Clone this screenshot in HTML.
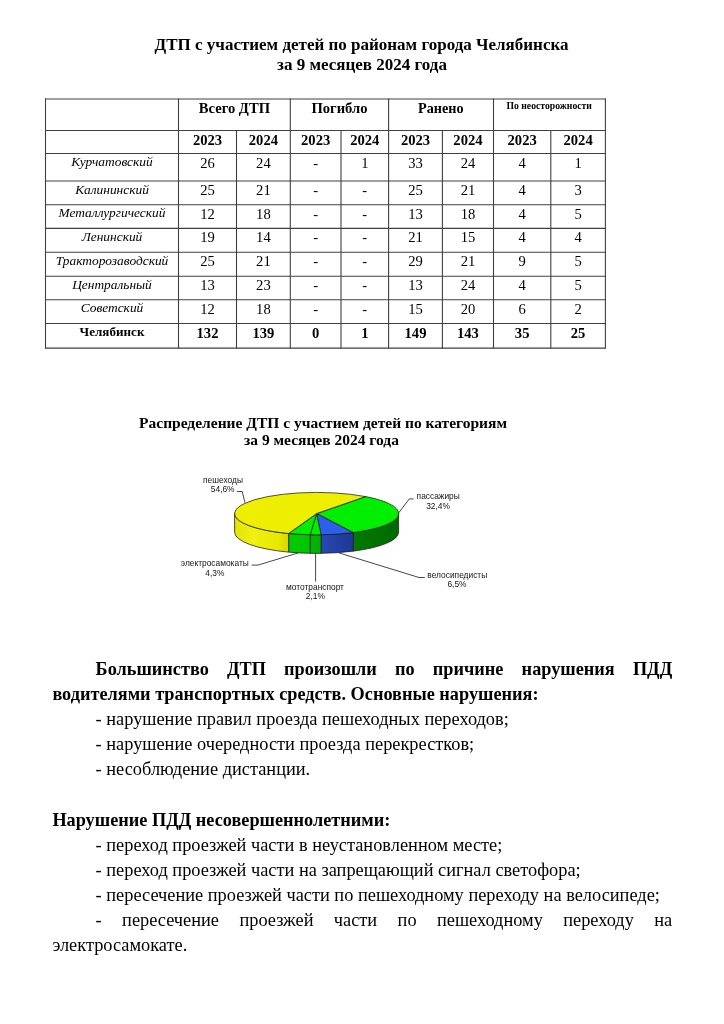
<!DOCTYPE html>
<html lang="ru"><head><meta charset="utf-8"><title>ДТП с участием детей</title>
<style>
html,body{margin:0;padding:0;background:#fff;}
body{width:724px;height:1024px;position:relative;overflow:hidden;color:#000;}
.t{position:absolute;margin:0;padding:0;}
.abs{position:absolute;}
#w{position:absolute;left:0;top:0;width:724px;height:1024px;will-change:transform;}
</style></head><body><div id="w">
<div class="t" style="left:61.50px;top:34.01px;font:normal bold 17px/21px 'Liberation Serif', 'Times New Roman', serif;text-align:center;width:600.00px;">ДТП с участием детей по районам города Челябинска</div>
<div class="t" style="left:62.00px;top:54.01px;font:normal bold 17px/21px 'Liberation Serif', 'Times New Roman', serif;text-align:center;width:600.00px;">за 9 месяцев 2024 года</div>
<svg class="abs" width="724" height="400" style="left:0;top:0" stroke="#404040" stroke-width="1.1"><line x1="45.0" y1="99" x2="605.9" y2="99"/><line x1="45.0" y1="130.5" x2="605.9" y2="130.5"/><line x1="45.0" y1="153.5" x2="605.9" y2="153.5"/><line x1="45.0" y1="181" x2="605.9" y2="181"/><line x1="45.0" y1="204.7" x2="605.9" y2="204.7"/><line x1="45.0" y1="228.4" x2="605.9" y2="228.4"/><line x1="45.0" y1="252.3" x2="605.9" y2="252.3"/><line x1="45.0" y1="276.2" x2="605.9" y2="276.2"/><line x1="45.0" y1="299.8" x2="605.9" y2="299.8"/><line x1="45.0" y1="323.5" x2="605.9" y2="323.5"/><line x1="45.0" y1="348.1" x2="605.9" y2="348.1"/><line x1="45.5" y1="98.5" x2="45.5" y2="348.6"/><line x1="178.5" y1="98.5" x2="178.5" y2="348.6"/><line x1="236.5" y1="130.0" x2="236.5" y2="348.6"/><line x1="290.3" y1="98.5" x2="290.3" y2="348.6"/><line x1="341" y1="130.0" x2="341" y2="348.6"/><line x1="388.6" y1="98.5" x2="388.6" y2="348.6"/><line x1="442.4" y1="130.0" x2="442.4" y2="348.6"/><line x1="493.5" y1="98.5" x2="493.5" y2="348.6"/><line x1="550.8" y1="130.0" x2="550.8" y2="348.6"/><line x1="605.4" y1="98.5" x2="605.4" y2="348.6"/></svg>
<div class="t" style="left:174.40px;top:99.01px;font:normal bold 14.6px/18px 'Liberation Serif', 'Times New Roman', serif;text-align:center;width:120.00px;">Всего ДТП</div>
<div class="t" style="left:279.45px;top:99.01px;font:normal bold 14.6px/18px 'Liberation Serif', 'Times New Roman', serif;text-align:center;width:120.00px;">Погибло</div>
<div class="t" style="left:380.80px;top:99.00px;font:normal bold 14.2px/18px 'Liberation Serif', 'Times New Roman', serif;text-align:center;width:120.00px;">Ранено</div>
<div class="t" style="left:489.20px;top:100.01px;font:normal bold 9.7px/12px 'Liberation Serif', 'Times New Roman', serif;text-align:center;width:120.00px;">По неосторожности</div>
<div class="t" style="left:177.50px;top:131.01px;font:normal bold 14.6px/18px 'Liberation Serif', 'Times New Roman', serif;text-align:center;width:60.00px;">2023</div>
<div class="t" style="left:233.40px;top:131.01px;font:normal bold 14.6px/18px 'Liberation Serif', 'Times New Roman', serif;text-align:center;width:60.00px;">2024</div>
<div class="t" style="left:285.65px;top:131.01px;font:normal bold 14.6px/18px 'Liberation Serif', 'Times New Roman', serif;text-align:center;width:60.00px;">2023</div>
<div class="t" style="left:334.80px;top:131.01px;font:normal bold 14.6px/18px 'Liberation Serif', 'Times New Roman', serif;text-align:center;width:60.00px;">2024</div>
<div class="t" style="left:385.50px;top:131.01px;font:normal bold 14.6px/18px 'Liberation Serif', 'Times New Roman', serif;text-align:center;width:60.00px;">2023</div>
<div class="t" style="left:437.95px;top:131.01px;font:normal bold 14.6px/18px 'Liberation Serif', 'Times New Roman', serif;text-align:center;width:60.00px;">2024</div>
<div class="t" style="left:492.15px;top:131.01px;font:normal bold 14.6px/18px 'Liberation Serif', 'Times New Roman', serif;text-align:center;width:60.00px;">2023</div>
<div class="t" style="left:548.10px;top:131.01px;font:normal bold 14.6px/18px 'Liberation Serif', 'Times New Roman', serif;text-align:center;width:60.00px;">2024</div>
<div class="t" style="left:47.00px;top:153.01px;font:italic normal 13.4px/17px 'Liberation Serif', 'Times New Roman', serif;text-align:center;width:130.00px;">Курчатовский</div>
<div class="t" style="left:177.50px;top:154.01px;font:normal normal 14.6px/18px 'Liberation Serif', 'Times New Roman', serif;text-align:center;width:60.00px;">26</div>
<div class="t" style="left:233.40px;top:154.01px;font:normal normal 14.6px/18px 'Liberation Serif', 'Times New Roman', serif;text-align:center;width:60.00px;">24</div>
<div class="t" style="left:285.65px;top:154.01px;font:normal normal 14.6px/18px 'Liberation Serif', 'Times New Roman', serif;text-align:center;width:60.00px;">-</div>
<div class="t" style="left:334.80px;top:154.01px;font:normal normal 14.6px/18px 'Liberation Serif', 'Times New Roman', serif;text-align:center;width:60.00px;">1</div>
<div class="t" style="left:385.50px;top:154.01px;font:normal normal 14.6px/18px 'Liberation Serif', 'Times New Roman', serif;text-align:center;width:60.00px;">33</div>
<div class="t" style="left:437.95px;top:154.01px;font:normal normal 14.6px/18px 'Liberation Serif', 'Times New Roman', serif;text-align:center;width:60.00px;">24</div>
<div class="t" style="left:492.15px;top:154.01px;font:normal normal 14.6px/18px 'Liberation Serif', 'Times New Roman', serif;text-align:center;width:60.00px;">4</div>
<div class="t" style="left:548.10px;top:154.01px;font:normal normal 14.6px/18px 'Liberation Serif', 'Times New Roman', serif;text-align:center;width:60.00px;">1</div>
<div class="t" style="left:47.00px;top:181.01px;font:italic normal 13.4px/17px 'Liberation Serif', 'Times New Roman', serif;text-align:center;width:130.00px;">Калининский</div>
<div class="t" style="left:177.50px;top:181.01px;font:normal normal 14.6px/18px 'Liberation Serif', 'Times New Roman', serif;text-align:center;width:60.00px;">25</div>
<div class="t" style="left:233.40px;top:181.01px;font:normal normal 14.6px/18px 'Liberation Serif', 'Times New Roman', serif;text-align:center;width:60.00px;">21</div>
<div class="t" style="left:285.65px;top:181.01px;font:normal normal 14.6px/18px 'Liberation Serif', 'Times New Roman', serif;text-align:center;width:60.00px;">-</div>
<div class="t" style="left:334.80px;top:181.01px;font:normal normal 14.6px/18px 'Liberation Serif', 'Times New Roman', serif;text-align:center;width:60.00px;">-</div>
<div class="t" style="left:385.50px;top:181.01px;font:normal normal 14.6px/18px 'Liberation Serif', 'Times New Roman', serif;text-align:center;width:60.00px;">25</div>
<div class="t" style="left:437.95px;top:181.01px;font:normal normal 14.6px/18px 'Liberation Serif', 'Times New Roman', serif;text-align:center;width:60.00px;">21</div>
<div class="t" style="left:492.15px;top:181.01px;font:normal normal 14.6px/18px 'Liberation Serif', 'Times New Roman', serif;text-align:center;width:60.00px;">4</div>
<div class="t" style="left:548.10px;top:181.01px;font:normal normal 14.6px/18px 'Liberation Serif', 'Times New Roman', serif;text-align:center;width:60.00px;">3</div>
<div class="t" style="left:47.00px;top:204.01px;font:italic normal 13.4px/17px 'Liberation Serif', 'Times New Roman', serif;text-align:center;width:130.00px;">Металлургический</div>
<div class="t" style="left:177.50px;top:205.01px;font:normal normal 14.6px/18px 'Liberation Serif', 'Times New Roman', serif;text-align:center;width:60.00px;">12</div>
<div class="t" style="left:233.40px;top:205.01px;font:normal normal 14.6px/18px 'Liberation Serif', 'Times New Roman', serif;text-align:center;width:60.00px;">18</div>
<div class="t" style="left:285.65px;top:205.01px;font:normal normal 14.6px/18px 'Liberation Serif', 'Times New Roman', serif;text-align:center;width:60.00px;">-</div>
<div class="t" style="left:334.80px;top:205.01px;font:normal normal 14.6px/18px 'Liberation Serif', 'Times New Roman', serif;text-align:center;width:60.00px;">-</div>
<div class="t" style="left:385.50px;top:205.01px;font:normal normal 14.6px/18px 'Liberation Serif', 'Times New Roman', serif;text-align:center;width:60.00px;">13</div>
<div class="t" style="left:437.95px;top:205.01px;font:normal normal 14.6px/18px 'Liberation Serif', 'Times New Roman', serif;text-align:center;width:60.00px;">18</div>
<div class="t" style="left:492.15px;top:205.01px;font:normal normal 14.6px/18px 'Liberation Serif', 'Times New Roman', serif;text-align:center;width:60.00px;">4</div>
<div class="t" style="left:548.10px;top:205.01px;font:normal normal 14.6px/18px 'Liberation Serif', 'Times New Roman', serif;text-align:center;width:60.00px;">5</div>
<div class="t" style="left:47.00px;top:228.01px;font:italic normal 13.4px/17px 'Liberation Serif', 'Times New Roman', serif;text-align:center;width:130.00px;">Ленинский</div>
<div class="t" style="left:177.50px;top:228.01px;font:normal normal 14.6px/18px 'Liberation Serif', 'Times New Roman', serif;text-align:center;width:60.00px;">19</div>
<div class="t" style="left:233.40px;top:228.01px;font:normal normal 14.6px/18px 'Liberation Serif', 'Times New Roman', serif;text-align:center;width:60.00px;">14</div>
<div class="t" style="left:285.65px;top:228.01px;font:normal normal 14.6px/18px 'Liberation Serif', 'Times New Roman', serif;text-align:center;width:60.00px;">-</div>
<div class="t" style="left:334.80px;top:228.01px;font:normal normal 14.6px/18px 'Liberation Serif', 'Times New Roman', serif;text-align:center;width:60.00px;">-</div>
<div class="t" style="left:385.50px;top:228.01px;font:normal normal 14.6px/18px 'Liberation Serif', 'Times New Roman', serif;text-align:center;width:60.00px;">21</div>
<div class="t" style="left:437.95px;top:228.01px;font:normal normal 14.6px/18px 'Liberation Serif', 'Times New Roman', serif;text-align:center;width:60.00px;">15</div>
<div class="t" style="left:492.15px;top:228.01px;font:normal normal 14.6px/18px 'Liberation Serif', 'Times New Roman', serif;text-align:center;width:60.00px;">4</div>
<div class="t" style="left:548.10px;top:228.01px;font:normal normal 14.6px/18px 'Liberation Serif', 'Times New Roman', serif;text-align:center;width:60.00px;">4</div>
<div class="t" style="left:47.00px;top:252.01px;font:italic normal 13.4px/17px 'Liberation Serif', 'Times New Roman', serif;text-align:center;width:130.00px;">Тракторозаводский</div>
<div class="t" style="left:177.50px;top:252.01px;font:normal normal 14.6px/18px 'Liberation Serif', 'Times New Roman', serif;text-align:center;width:60.00px;">25</div>
<div class="t" style="left:233.40px;top:252.01px;font:normal normal 14.6px/18px 'Liberation Serif', 'Times New Roman', serif;text-align:center;width:60.00px;">21</div>
<div class="t" style="left:285.65px;top:252.01px;font:normal normal 14.6px/18px 'Liberation Serif', 'Times New Roman', serif;text-align:center;width:60.00px;">-</div>
<div class="t" style="left:334.80px;top:252.01px;font:normal normal 14.6px/18px 'Liberation Serif', 'Times New Roman', serif;text-align:center;width:60.00px;">-</div>
<div class="t" style="left:385.50px;top:252.01px;font:normal normal 14.6px/18px 'Liberation Serif', 'Times New Roman', serif;text-align:center;width:60.00px;">29</div>
<div class="t" style="left:437.95px;top:252.01px;font:normal normal 14.6px/18px 'Liberation Serif', 'Times New Roman', serif;text-align:center;width:60.00px;">21</div>
<div class="t" style="left:492.15px;top:252.01px;font:normal normal 14.6px/18px 'Liberation Serif', 'Times New Roman', serif;text-align:center;width:60.00px;">9</div>
<div class="t" style="left:548.10px;top:252.01px;font:normal normal 14.6px/18px 'Liberation Serif', 'Times New Roman', serif;text-align:center;width:60.00px;">5</div>
<div class="t" style="left:47.00px;top:276.01px;font:italic normal 13.4px/17px 'Liberation Serif', 'Times New Roman', serif;text-align:center;width:130.00px;">Центральный</div>
<div class="t" style="left:177.50px;top:276.01px;font:normal normal 14.6px/18px 'Liberation Serif', 'Times New Roman', serif;text-align:center;width:60.00px;">13</div>
<div class="t" style="left:233.40px;top:276.01px;font:normal normal 14.6px/18px 'Liberation Serif', 'Times New Roman', serif;text-align:center;width:60.00px;">23</div>
<div class="t" style="left:285.65px;top:276.01px;font:normal normal 14.6px/18px 'Liberation Serif', 'Times New Roman', serif;text-align:center;width:60.00px;">-</div>
<div class="t" style="left:334.80px;top:276.01px;font:normal normal 14.6px/18px 'Liberation Serif', 'Times New Roman', serif;text-align:center;width:60.00px;">-</div>
<div class="t" style="left:385.50px;top:276.01px;font:normal normal 14.6px/18px 'Liberation Serif', 'Times New Roman', serif;text-align:center;width:60.00px;">13</div>
<div class="t" style="left:437.95px;top:276.01px;font:normal normal 14.6px/18px 'Liberation Serif', 'Times New Roman', serif;text-align:center;width:60.00px;">24</div>
<div class="t" style="left:492.15px;top:276.01px;font:normal normal 14.6px/18px 'Liberation Serif', 'Times New Roman', serif;text-align:center;width:60.00px;">4</div>
<div class="t" style="left:548.10px;top:276.01px;font:normal normal 14.6px/18px 'Liberation Serif', 'Times New Roman', serif;text-align:center;width:60.00px;">5</div>
<div class="t" style="left:47.00px;top:299.01px;font:italic normal 13.4px/17px 'Liberation Serif', 'Times New Roman', serif;text-align:center;width:130.00px;">Советский</div>
<div class="t" style="left:177.50px;top:300.01px;font:normal normal 14.6px/18px 'Liberation Serif', 'Times New Roman', serif;text-align:center;width:60.00px;">12</div>
<div class="t" style="left:233.40px;top:300.01px;font:normal normal 14.6px/18px 'Liberation Serif', 'Times New Roman', serif;text-align:center;width:60.00px;">18</div>
<div class="t" style="left:285.65px;top:300.01px;font:normal normal 14.6px/18px 'Liberation Serif', 'Times New Roman', serif;text-align:center;width:60.00px;">-</div>
<div class="t" style="left:334.80px;top:300.01px;font:normal normal 14.6px/18px 'Liberation Serif', 'Times New Roman', serif;text-align:center;width:60.00px;">-</div>
<div class="t" style="left:385.50px;top:300.01px;font:normal normal 14.6px/18px 'Liberation Serif', 'Times New Roman', serif;text-align:center;width:60.00px;">15</div>
<div class="t" style="left:437.95px;top:300.01px;font:normal normal 14.6px/18px 'Liberation Serif', 'Times New Roman', serif;text-align:center;width:60.00px;">20</div>
<div class="t" style="left:492.15px;top:300.01px;font:normal normal 14.6px/18px 'Liberation Serif', 'Times New Roman', serif;text-align:center;width:60.00px;">6</div>
<div class="t" style="left:548.10px;top:300.01px;font:normal normal 14.6px/18px 'Liberation Serif', 'Times New Roman', serif;text-align:center;width:60.00px;">2</div>
<div class="t" style="left:47.00px;top:324.00px;font:normal bold 13.1px/16px 'Liberation Serif', 'Times New Roman', serif;text-align:center;width:130.00px;">Челябинск</div>
<div class="t" style="left:177.50px;top:324.01px;font:normal bold 14.6px/18px 'Liberation Serif', 'Times New Roman', serif;text-align:center;width:60.00px;">132</div>
<div class="t" style="left:233.40px;top:324.01px;font:normal bold 14.6px/18px 'Liberation Serif', 'Times New Roman', serif;text-align:center;width:60.00px;">139</div>
<div class="t" style="left:285.65px;top:324.01px;font:normal bold 14.6px/18px 'Liberation Serif', 'Times New Roman', serif;text-align:center;width:60.00px;">0</div>
<div class="t" style="left:334.80px;top:324.01px;font:normal bold 14.6px/18px 'Liberation Serif', 'Times New Roman', serif;text-align:center;width:60.00px;">1</div>
<div class="t" style="left:385.50px;top:324.01px;font:normal bold 14.6px/18px 'Liberation Serif', 'Times New Roman', serif;text-align:center;width:60.00px;">149</div>
<div class="t" style="left:437.95px;top:324.01px;font:normal bold 14.6px/18px 'Liberation Serif', 'Times New Roman', serif;text-align:center;width:60.00px;">143</div>
<div class="t" style="left:492.15px;top:324.01px;font:normal bold 14.6px/18px 'Liberation Serif', 'Times New Roman', serif;text-align:center;width:60.00px;">35</div>
<div class="t" style="left:548.10px;top:324.01px;font:normal bold 14.6px/18px 'Liberation Serif', 'Times New Roman', serif;text-align:center;width:60.00px;">25</div>
<div class="t" style="left:73.00px;top:413.00px;font:normal bold 15.5px/19px 'Liberation Serif', 'Times New Roman', serif;text-align:center;width:500.00px;">Распределение ДТП с участием детей по категориям</div>
<div class="t" style="left:71.50px;top:430.00px;font:normal bold 15.5px/19px 'Liberation Serif', 'Times New Roman', serif;text-align:center;width:500.00px;">за 9 месяцев 2024 года</div>
<svg class="abs" width="724" height="700" style="left:0;top:0"><defs><linearGradient id="g0" x1="0" x2="1" y1="0" y2="0"><stop offset="0" stop-color="#007a00"/><stop offset="1" stop-color="#006a00"/></linearGradient><linearGradient id="g1" x1="0" x2="1" y1="0" y2="0"><stop offset="0" stop-color="#2848b4"/><stop offset="1" stop-color="#1f3794"/></linearGradient><linearGradient id="g2" x1="0" x2="1" y1="0" y2="0"><stop offset="0" stop-color="#00b800"/><stop offset="1" stop-color="#00b000"/></linearGradient><linearGradient id="g3" x1="0" x2="1" y1="0" y2="0"><stop offset="0" stop-color="#00cc00"/><stop offset="1" stop-color="#00c400"/></linearGradient><linearGradient id="g4" x1="0" x2="1" y1="0" y2="0"><stop offset="0" stop-color="#e4e400"/><stop offset="0.35" stop-color="#f0f012"/><stop offset="0.8" stop-color="#e8e800"/><stop offset="1" stop-color="#d6d600"/></linearGradient></defs><path d="M398.60,513.60 A82,21.2 0 0 1 353.24,532.57 L353.24,551.17 A82,21.2 0 0 0 398.60,532.20 Z" fill="url(#g0)" stroke="#1a1a1a" stroke-width="0.75"/><path d="M353.24,532.57 A82,21.2 0 0 1 321.06,534.77 L321.06,553.37 A82,21.2 0 0 0 353.24,551.17 Z" fill="url(#g1)" stroke="#1a1a1a" stroke-width="0.75"/><path d="M321.06,534.77 A82,21.2 0 0 1 310.24,534.74 L310.24,553.34 A82,21.2 0 0 0 321.06,553.37 Z" fill="url(#g2)" stroke="#1a1a1a" stroke-width="0.75"/><path d="M310.24,534.74 A82,21.2 0 0 1 288.63,533.53 L288.63,552.13 A82,21.2 0 0 0 310.24,553.34 Z" fill="url(#g3)" stroke="#1a1a1a" stroke-width="0.75"/><path d="M288.63,533.53 A82,21.2 0 0 1 234.60,513.60 L234.60,532.20 A82,21.2 0 0 0 288.63,552.13 Z" fill="url(#g4)" stroke="#1a1a1a" stroke-width="0.75"/><path d="M316.6,513.6 L365.61,496.60 A82,21.2 0 0 1 353.24,532.57 Z" fill="#00ee00" stroke="#1a1a1a" stroke-width="0.75" stroke-linejoin="round"/><path d="M316.6,513.6 L353.24,532.57 A82,21.2 0 0 1 321.06,534.77 Z" fill="#2d5feb" stroke="#1a1a1a" stroke-width="0.75" stroke-linejoin="round"/><path d="M316.6,513.6 L321.06,534.77 A82,21.2 0 0 1 310.24,534.74 Z" fill="#00ee00" stroke="#1a1a1a" stroke-width="0.75" stroke-linejoin="round"/><path d="M316.6,513.6 L310.24,534.74 A82,21.2 0 0 1 288.63,533.53 Z" fill="#00ee00" stroke="#1a1a1a" stroke-width="0.75" stroke-linejoin="round"/><path d="M316.6,513.6 L288.63,533.53 A82,21.2 0 1 1 365.61,496.60 Z" fill="#eeee00" stroke="#1a1a1a" stroke-width="0.75" stroke-linejoin="round"/><polyline points="236.9,491.5 242.2,491.5 245,502.8" fill="none" stroke="#333" stroke-width="0.9"/><polyline points="413.6,498.9 409.3,498.9 398.1,513.6" fill="none" stroke="#333" stroke-width="0.9"/><polyline points="251.7,565.1 258,565.1 298.3,552.9" fill="none" stroke="#333" stroke-width="0.9"/><polyline points="315.6,552.6 315.6,581.6" fill="none" stroke="#333" stroke-width="0.9"/><polyline points="339,552.9 419,577.5 424.8,577.5" fill="none" stroke="#333" stroke-width="0.9"/></svg>
<div class="t" style="left:178.00px;top:475.01px;font:normal normal 8.4px/10px 'Liberation Sans', Arial, sans-serif;text-align:center;width:90.00px;color:#151515;">пешеходы</div>
<div class="t" style="left:177.70px;top:484.01px;font:normal normal 8.4px/10px 'Liberation Sans', Arial, sans-serif;text-align:center;width:90.00px;color:#151515;">54,6%</div>
<div class="t" style="left:393.20px;top:491.01px;font:normal normal 8.4px/10px 'Liberation Sans', Arial, sans-serif;text-align:center;width:90.00px;color:#151515;">пассажиры</div>
<div class="t" style="left:393.00px;top:501.01px;font:normal normal 8.4px/10px 'Liberation Sans', Arial, sans-serif;text-align:center;width:90.00px;color:#151515;">32,4%</div>
<div class="t" style="left:169.80px;top:558.01px;font:normal normal 8.4px/10px 'Liberation Sans', Arial, sans-serif;text-align:center;width:90.00px;color:#151515;">электросамокаты</div>
<div class="t" style="left:169.80px;top:568.01px;font:normal normal 8.4px/10px 'Liberation Sans', Arial, sans-serif;text-align:center;width:90.00px;color:#151515;">4,3%</div>
<div class="t" style="left:270.00px;top:582.01px;font:normal normal 8.4px/10px 'Liberation Sans', Arial, sans-serif;text-align:center;width:90.00px;color:#151515;">мототранспорт</div>
<div class="t" style="left:270.30px;top:591.01px;font:normal normal 8.4px/10px 'Liberation Sans', Arial, sans-serif;text-align:center;width:90.00px;color:#151515;">2,1%</div>
<div class="t" style="left:412.30px;top:570.01px;font:normal normal 8.4px/10px 'Liberation Sans', Arial, sans-serif;text-align:center;width:90.00px;color:#151515;">велосипедисты</div>
<div class="t" style="left:412.00px;top:579.01px;font:normal normal 8.4px/10px 'Liberation Sans', Arial, sans-serif;text-align:center;width:90.00px;color:#151515;">6,5%</div>
<div class="t" style="left:95.60px;top:658.01px;font:normal bold 18.25px/23px 'Liberation Serif', 'Times New Roman', serif;text-align:left;width:576.60px;text-align:justify;text-align-last:justify;">Большинство ДТП произошли по причине нарушения ПДД</div>
<div class="t" style="left:52.40px;top:683.01px;font:normal bold 18.25px/23px 'Liberation Serif', 'Times New Roman', serif;text-align:left;white-space:nowrap;">водителями транспортных средств. Основные нарушения:</div>
<div class="t" style="left:95.60px;top:708.01px;font:normal normal 18.35px/23px 'Liberation Serif', 'Times New Roman', serif;text-align:left;white-space:nowrap;">- нарушение правил проезда пешеходных переходов;</div>
<div class="t" style="left:95.60px;top:733.01px;font:normal normal 18.35px/23px 'Liberation Serif', 'Times New Roman', serif;text-align:left;white-space:nowrap;">- нарушение очередности проезда перекрестков;</div>
<div class="t" style="left:95.60px;top:758.01px;font:normal normal 18.35px/23px 'Liberation Serif', 'Times New Roman', serif;text-align:left;white-space:nowrap;">- несоблюдение дистанции.</div>
<div class="t" style="left:52.40px;top:809.01px;font:normal bold 18.25px/23px 'Liberation Serif', 'Times New Roman', serif;text-align:left;white-space:nowrap;">Нарушение ПДД несовершеннолетними:</div>
<div class="t" style="left:95.60px;top:834.01px;font:normal normal 18.35px/23px 'Liberation Serif', 'Times New Roman', serif;text-align:left;white-space:nowrap;">- переход проезжей части в неустановленном месте;</div>
<div class="t" style="left:95.60px;top:859.01px;font:normal normal 18.35px/23px 'Liberation Serif', 'Times New Roman', serif;text-align:left;white-space:nowrap;">- переход проезжей части на запрещающий сигнал светофора;</div>
<div class="t" style="left:95.60px;top:884.01px;font:normal normal 18.35px/23px 'Liberation Serif', 'Times New Roman', serif;text-align:left;white-space:nowrap;">- пересечение проезжей части по пешеходному переходу на велосипеде;</div>
<div class="t" style="left:95.60px;top:909.01px;font:normal normal 18.35px/23px 'Liberation Serif', 'Times New Roman', serif;text-align:left;width:576.60px;text-align:justify;text-align-last:justify;">- пересечение проезжей части по пешеходному переходу на</div>
<div class="t" style="left:52.40px;top:934.01px;font:normal normal 18.35px/23px 'Liberation Serif', 'Times New Roman', serif;text-align:left;white-space:nowrap;">электросамокате.</div>
</div></body></html>
